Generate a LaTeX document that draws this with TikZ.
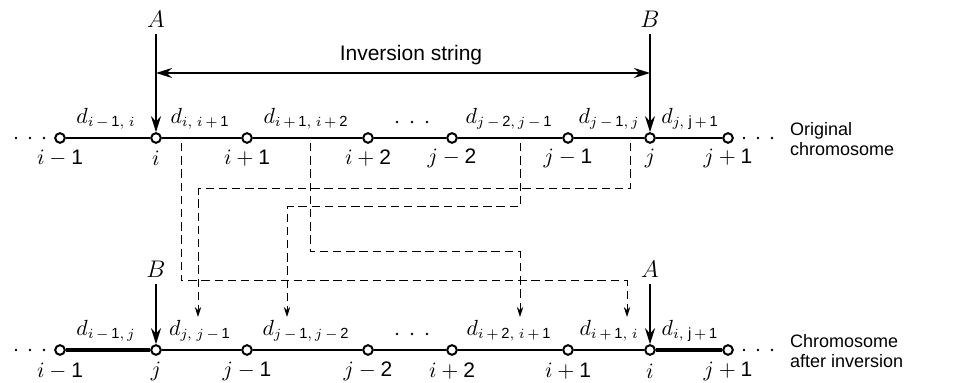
\documentclass[tikz,border=0pt]{standalone}
\usepackage{fontspec}
\setsansfont{Liberation Sans}
\usetikzlibrary{arrows.meta,positioning,backgrounds}

\newcommand{\ds}[1]{\mathsf{#1}}

\begin{document}
\begin{tikzpicture}[
    x=0.5pt, y=-0.5pt,
    font=\fontsize{10.5pt}{12pt}\selectfont,
    >=Stealth,
    locus/.style={
        circle,
        draw=black,
        fill=white,
        line width=1pt,
        inner sep=0pt,
        minimum size=4.8pt
    },
    chromLine/.style={line width=1pt},
    chromThick/.style={line width=1.7pt},
    cutArrow/.style={
        line width=1pt,
        -{Stealth[length=8pt,width=5pt]}
    },
    spanArrow/.style={
        line width=1pt,
        {Stealth[length=8pt,width=5pt]}-{Stealth[length=8pt,width=5pt]}
    },
    moveLine/.style={
        dash pattern=on 4.2pt off 2.4pt,
        line width=0.5pt,
        -{Stealth[length=5pt,width=3.2pt]}
    },
    cutLabel/.style={font=\fontsize{13pt}{14pt}\selectfont},
    sideText/.style={
        anchor=west,
        align=left,
        font=\sffamily\fontsize{9pt}{10pt}\selectfont
    }
]
\useasboundingbox (0,0) rectangle (967,383);

% ==================== ORIGINAL CHROMOSOME ====================
\node[locus] (t1) at (60, 138) {};
\node[locus] (t2) at (156, 138) {};
\node[locus] (t3) at (247, 138) {};
\node[locus] (t4) at (368, 138) {};
\node[locus] (t5) at (452, 138) {};
\node[locus] (t6) at (568, 138) {};
\node[locus] (t7) at (650, 138) {};
\node[locus] (t8) at (728, 138) {};

\begin{scope}[on background layer]
\foreach \a/\b in {t1/t2, t2/t3, t3/t4, t4/t5, t5/t6, t6/t7, t7/t8}
    \draw[chromLine] (\a) -- (\b);
\end{scope}

% dots
\foreach \x in {16, 30, 44, 744, 758, 772}
    \fill (\x, 138) circle (0.65pt);
\foreach \x in {397, 412, 427}
    \fill (\x, 122) circle (0.65pt);

% segment labels
\node (dTop1) at (106, 119) {$d_{i\,-\,\ds{1},\;i}$};
\node (dTop2) at (200, 119) {$d_{i,\;i\,+\,\ds{1}}$};
\node (dTop3) at (306, 119) {$d_{i\,+\,\ds{1},\;i\,+\,\ds{2}}$};
\node (dTop4) at (509, 119) {$d_{j\,-\,\ds{2},\,j\,-\,\ds{1}}$};
\node (dTop5) at (609, 119) {$d_{j\,-\,\ds{1},\,j}$};
\node (dTop6) at (690, 119) {$d_{j,\;\ds{j}\,+\,\ds{1}}$};

% locus labels
\node at (60, 158) {$i-\ds{1}$};
\node at (156, 158) {$i$};
\node at (247, 158) {$i+\ds{1}$};
\node at (368, 158) {$i+\ds{2}$};
\node at (452, 158) {$j-\ds{2}$};
\node at (568, 158) {$j-\ds{1}$};
\node at (650, 158) {$j$};
\node at (728, 158) {$j+\ds{1}$};

\node[sideText] (origText) at (783, 139) {Original\\chromosome};

% cut points
\node[cutLabel] (cutA) at (156, 19) {$A$};
\node[cutLabel] (cutB) at (650, 19) {$B$};
\draw[cutArrow] (cutA) -- (t2);
\draw[cutArrow] (cutB) -- (t7);

% inversion string
\coordinate (invL) at (156, 73);
\coordinate (invR) at (650, 73);
\draw[spanArrow] (invL) -- (invR);
\node[font=\sffamily\fontsize{10.5pt}{12pt}\selectfont] (invText) at (411, 55) {Inversion string};

% ==================== CHROMOSOME AFTER INVERSION ====================
\node[locus] (b1) at (60, 350) {};
\node[locus] (b2) at (156, 350) {};
\node[locus] (b3) at (247, 350) {};
\node[locus] (b4) at (368, 350) {};
\node[locus] (b5) at (452, 350) {};
\node[locus] (b6) at (568, 350) {};
\node[locus] (b7) at (650, 350) {};
\node[locus] (b8) at (728, 350) {};

\begin{scope}[on background layer]
\foreach \a/\b in {b2/b3, b3/b4, b4/b5, b5/b6, b6/b7}
    \draw[chromLine] (\a) -- (\b);
\draw[chromThick] (b1) -- (b2);
\draw[chromThick] (b7) -- (b8);
\end{scope}

% dots
\foreach \x in {16, 30, 44, 744, 758, 772}
    \fill (\x, 350) circle (0.65pt);
\foreach \x in {397, 412, 427}
    \fill (\x, 334) circle (0.65pt);

% segment labels
\node (dBot1) at (106, 331) {$d_{i\,-\,\ds{1},\,j}$};
\node (dBot2) at (200, 331) {$d_{j,\;j\,-\,\ds{1}}$};
\node (dBot3) at (306, 331) {$d_{j\,-\,\ds{1},\,j\,-\,\ds{2}}$};
\node (dBot4) at (509, 331) {$d_{i\,+\,\ds{2},\;i\,+\,\ds{1}}$};
\node (dBot5) at (609, 331) {$d_{i\,+\,\ds{1},\;i}$};
\node (dBot6) at (690, 331) {$d_{i,\;\ds{j}\,+\,\ds{1}}$};

% locus labels
\node at (60, 371) {$i-\ds{1}$};
\node at (156, 371) {$j$};
\node at (247, 371) {$j-\ds{1}$};
\node at (368, 371) {$j-\ds{2}$};
\node at (452, 371) {$i+\ds{2}$};
\node at (568, 371) {$i+\ds{1}$};
\node at (650, 371) {$i$};
\node at (728, 371) {$j+\ds{1}$};

\node[sideText] (invChromText) at (783, 351) {Chromosome\\after inversion};

% cut points
\node[cutLabel] (cutB2) at (156, 269) {$B$};
\node[cutLabel] (cutA2) at (650, 269) {$A$};
\draw[cutArrow] (cutB2) -- (b2);
\draw[cutArrow] (cutA2) -- (b7);

% ==================== SEGMENT MOVES ====================
\coordinate (s1) at (181, 143);
\coordinate (s2) at (310, 143);
\coordinate (s3) at (520, 143);
\coordinate (s4) at (630, 143);
\coordinate (e1) at (627, 317);
\coordinate (e2) at (520, 317);
\coordinate (e3) at (287, 317);
\coordinate (e4) at (198, 317);

\draw[moveLine] (s1) -- ++(0, 138) -| (e1);
\draw[moveLine] (s2) -- ++(0, 109) -| (e2);
\draw[moveLine] (s3) -- ++(0, 64) -| (e3);
\draw[moveLine] (s4) -- ++(0, 46) -| (e4);

\end{tikzpicture}
\end{document}
